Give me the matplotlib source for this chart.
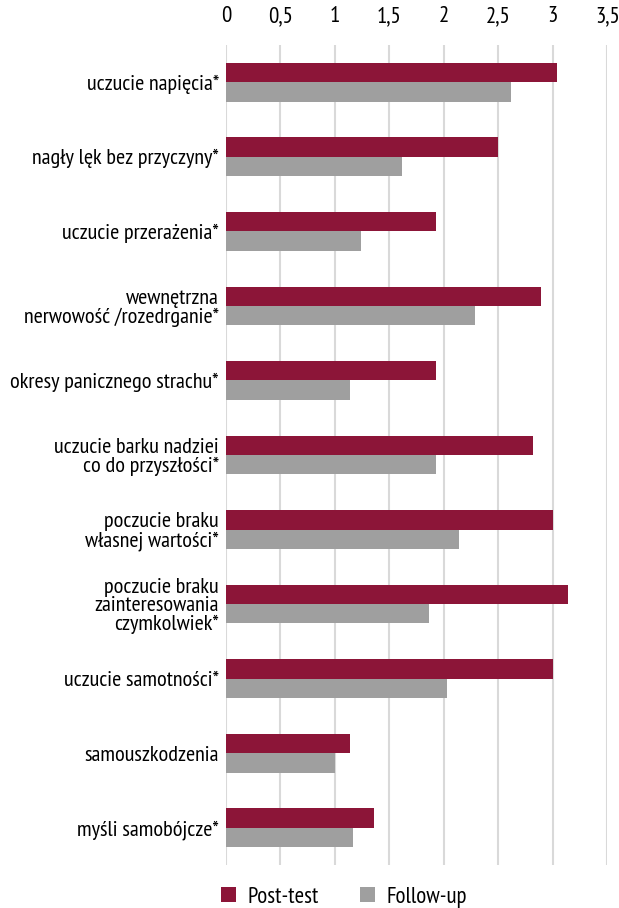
import numpy as np
import matplotlib.pyplot as plt

plt.rcParams['font.family'] = ['PT Sans Narrow', 'DejaVu Sans']

# Data
categories = [
    "uczucie napięcia*",
    "nagły lęk bez przyczyny*",
    "uczucie przerażenia*",
    "wewnętrzna\nnerwowość /rozedrganie*",
    "okresy panicznego strachu*",
    "uczucie barku nadziei\nco do przyszłości*",
    "poczucie braku\nwłasnej wartości*",
    "poczucie braku\nzainteresowania\nczymkolwiek*",
    "uczucie samotności*",
    "samouszkodzenia",
    "myśli samobójcze*",
]
post_test = [3.04, 2.50, 1.93, 2.89, 1.93, 2.82, 3.00, 3.14, 3.00, 1.14, 1.36]
follow_up = [2.62, 1.62, 1.24, 2.29, 1.14, 1.93, 2.14, 1.86, 2.03, 1.00, 1.17]
xticks = [0, 0.5, 1, 1.5, 2, 2.5, 3, 3.5]
xtick_labels = ["0", "0,5", "1", "1,5", "2", "2,5", "3", "3,5"]

c_post = "#8c1538"
c_follow = "#9f9f9f"

fig = plt.figure(figsize=(6.19, 9.08), dpi=100)
ax = fig.add_axes([0.365, 0.0474, 0.616, 0.903])

y = np.arange(len(categories))
h = 0.26
ax.barh(y - h / 2, post_test, height=h, color=c_post, label="Post-test", zorder=3)
ax.barh(y + h / 2, follow_up, height=h, color=c_follow, label="Follow-up", zorder=3)

ax.set_ylim(len(categories) - 0.5, -0.5)
ax.set_xlim(0, 3.5)
ax.set_yticks(y)
ax.set_yticklabels(categories, fontsize=16, linespacing=0.97)
ax.set_xticks(xticks)
ax.set_xticklabels(xtick_labels, fontsize=16.5)
ax.xaxis.tick_top()
ax.tick_params(axis='both', length=0)
ax.tick_params(axis='x', pad=13)
ax.tick_params(axis='y', pad=5)
ax.grid(axis='x', color="#d9d9d9", linewidth=1.5, zorder=0)
for s in ax.spines.values():
    s.set_visible(False)

fig.legend(loc="center", bbox_to_anchor=(0.556, 0.012), ncol=2, frameon=False,
           fontsize=16.5, handlelength=0.65, handleheight=0.65, columnspacing=1.8,
           handletextpad=0.5)

fig.savefig("out.png", dpi=100)
